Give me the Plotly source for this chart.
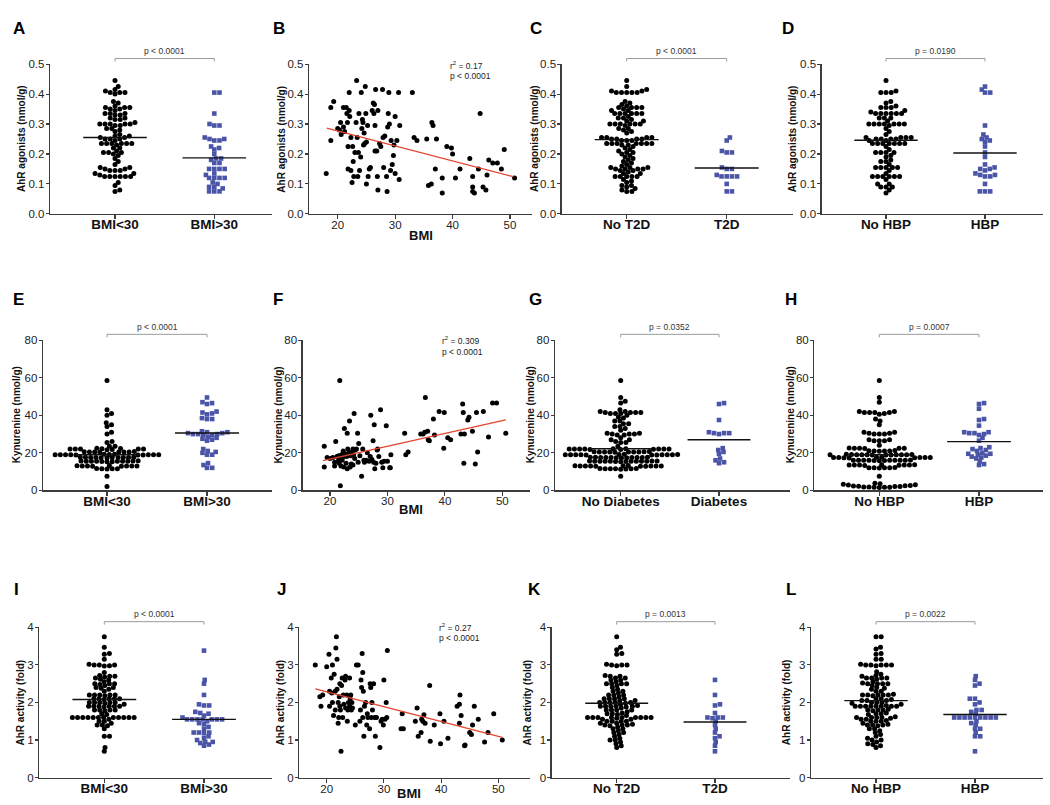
import math
import plotly.graph_objects as go

W, H = 1050, 805

# ---------------- data ----------------
# Row 1: AhR agonists (nmol/g)
a_bmi_lt30 = [0.445, 0.425, 0.415, 0.41, 0.405, 0.405, 0.405, 0.40, 0.375, 0.37, 0.36, 0.355, 0.355, 0.355,
              0.35, 0.35, 0.345, 0.335, 0.335, 0.335, 0.33, 0.33, 0.32, 0.32, 0.315, 0.315, 0.305, 0.30, 0.30,
              0.30, 0.30, 0.30, 0.295, 0.295, 0.285, 0.285, 0.28, 0.275, 0.265, 0.26, 0.26, 0.255, 0.255, 0.25,
              0.25, 0.25, 0.245, 0.235, 0.235, 0.235, 0.235, 0.235, 0.235, 0.23, 0.22, 0.22, 0.21, 0.205, 0.205,
              0.205, 0.20, 0.195, 0.185, 0.175, 0.165, 0.155, 0.155, 0.15, 0.15, 0.145, 0.145, 0.145, 0.135,
              0.135, 0.13, 0.125, 0.125, 0.125, 0.125, 0.125, 0.125, 0.105, 0.095, 0.08, 0.075]
a_bmi_gt30 = [0.405, 0.405, 0.335, 0.30, 0.295, 0.295, 0.255, 0.25, 0.25, 0.245, 0.245, 0.225, 0.22, 0.215,
              0.20, 0.185, 0.185, 0.18, 0.17, 0.17, 0.15, 0.15, 0.15, 0.15, 0.135, 0.13, 0.12, 0.12, 0.12,
              0.12, 0.105, 0.10, 0.09, 0.09, 0.085, 0.075, 0.075, 0.075]
a_medians = [0.255, 0.187]

b_points = [(18.0, 0.135), (18.8, 0.245), (18.8, 0.355), (19.3, 0.375), (20.0, 0.285), (20.3, 0.28),
            (20.5, 0.305), (20.6, 0.265), (21.0, 0.29), (21.0, 0.355), (21.2, 0.275), (21.5, 0.355),
            (21.6, 0.335), (21.7, 0.305), (21.8, 0.225), (21.8, 0.15), (22.0, 0.405), (22.0, 0.345),
            (22.1, 0.325), (22.3, 0.255), (22.3, 0.145), (22.5, 0.105), (22.6, 0.225), (22.7, 0.175),
            (22.8, 0.125), (23.0, 0.205), (23.2, 0.305), (23.3, 0.445), (23.4, 0.255), (23.5, 0.125),
            (23.6, 0.205), (23.7, 0.335), (23.8, 0.145), (24.0, 0.19), (24.1, 0.405), (24.2, 0.285),
            (24.3, 0.315), (24.4, 0.305), (24.5, 0.23), (24.6, 0.27), (24.7, 0.235), (24.8, 0.425),
            (24.9, 0.335), (25.0, 0.10), (25.0, 0.24), (25.2, 0.295), (25.3, 0.125), (25.5, 0.15),
            (25.7, 0.155), (26.0, 0.345), (26.2, 0.37), (26.3, 0.335), (26.4, 0.365), (26.5, 0.295),
            (26.5, 0.21), (26.6, 0.415), (26.8, 0.21), (26.9, 0.125), (27.0, 0.08), (27.0, 0.345),
            (27.3, 0.235), (27.5, 0.225), (27.8, 0.415), (27.9, 0.255), (28.0, 0.155), (28.2, 0.26),
            (28.5, 0.125), (28.6, 0.075), (28.7, 0.29), (28.8, 0.335), (28.9, 0.405), (29.0, 0.30),
            (29.2, 0.145), (29.3, 0.245), (29.5, 0.165), (29.7, 0.195), (29.8, 0.23), (30.0, 0.325),
            (30.0, 0.135), (30.3, 0.245), (30.6, 0.405), (30.7, 0.115), (30.8, 0.295), (33.0, 0.405),
            (33.3, 0.255), (33.8, 0.245), (35.5, 0.25), (35.8, 0.095), (36.3, 0.10), (36.4, 0.305),
            (36.6, 0.295), (37.0, 0.15), (37.2, 0.25), (38.2, 0.07), (38.2, 0.12), (39.0, 0.225),
            (39.8, 0.22), (40.0, 0.20), (40.5, 0.12), (41.3, 0.15), (43.0, 0.185), (43.5, 0.125),
            (43.5, 0.09), (43.5, 0.075), (43.8, 0.07), (44.5, 0.15), (44.8, 0.335), (45.3, 0.09),
            (45.8, 0.08), (46.0, 0.13), (46.3, 0.18), (47.0, 0.17), (47.8, 0.17), (48.5, 0.15),
            (49.0, 0.215), (50.8, 0.12)]
b_fit_bmi = [18.1, 50.6]
b_fit_val = [0.286, 0.124]

c_no_t2d = [0.445, 0.425, 0.415, 0.41, 0.41, 0.405, 0.405, 0.405, 0.405, 0.405, 0.375, 0.37, 0.365, 0.36,
            0.355, 0.355, 0.355, 0.355, 0.35, 0.345, 0.345, 0.335, 0.335, 0.335, 0.335, 0.335, 0.335, 0.325,
            0.32, 0.32, 0.315, 0.31, 0.31, 0.30, 0.30, 0.30, 0.30, 0.30, 0.30, 0.295, 0.285, 0.285, 0.28,
            0.275, 0.27, 0.255, 0.255, 0.255, 0.255, 0.25, 0.25, 0.25, 0.25, 0.245, 0.245, 0.245, 0.235,
            0.235, 0.235, 0.235, 0.235, 0.235, 0.235, 0.23, 0.23, 0.225, 0.22, 0.215, 0.21, 0.205, 0.205,
            0.20, 0.195, 0.19, 0.185, 0.18, 0.175, 0.17, 0.165, 0.16, 0.155, 0.155, 0.155, 0.15, 0.15, 0.15,
            0.15, 0.145, 0.145, 0.14, 0.135, 0.135, 0.125, 0.125, 0.125, 0.125, 0.125, 0.115, 0.11, 0.105,
            0.095, 0.095, 0.09, 0.085, 0.08, 0.075, 0.075]
c_t2d = [0.255, 0.245, 0.21, 0.205, 0.205, 0.155, 0.15, 0.15, 0.13, 0.125, 0.125, 0.125, 0.125, 0.10,
         0.075, 0.075]
c_medians = [0.248, 0.153]

d_no_hbp = [0.445, 0.41, 0.405, 0.405, 0.405, 0.375, 0.37, 0.36, 0.355, 0.355, 0.355, 0.345, 0.34, 0.335,
            0.335, 0.335, 0.335, 0.335, 0.335, 0.32, 0.32, 0.32, 0.31, 0.30, 0.30, 0.30, 0.30, 0.30, 0.30,
            0.30, 0.295, 0.285, 0.275, 0.265, 0.255, 0.255, 0.255, 0.255, 0.25, 0.25, 0.25, 0.25, 0.245,
            0.245, 0.235, 0.235, 0.235, 0.235, 0.235, 0.235, 0.235, 0.225, 0.215, 0.205, 0.205, 0.205, 0.205,
            0.195, 0.19, 0.18, 0.175, 0.175, 0.165, 0.155, 0.155, 0.155, 0.155, 0.155, 0.145, 0.135, 0.125,
            0.125, 0.125, 0.125, 0.125, 0.125, 0.115, 0.10, 0.10, 0.09, 0.09, 0.09, 0.08, 0.07]
d_hbp = [0.425, 0.415, 0.405, 0.405, 0.295, 0.265, 0.255, 0.25, 0.245, 0.24, 0.225, 0.205, 0.19, 0.165,
         0.155, 0.15, 0.15, 0.145, 0.135, 0.13, 0.13, 0.125, 0.125, 0.10, 0.075, 0.075, 0.075]
d_medians = [0.246, 0.203]

# Row 2: Kynurenine (nmol/g)
e_bmi_lt30 = [58.5, 43, 41, 40, 36, 35, 34, 31, 30, 26, 25.5, 23.5, 23.5,
              22.5, 22.3, 22, 22, 22, 21.8, 22, 22.2, 22, 21.7,
              20.5, 20.6, 20.4, 20.5, 20.5, 20.3, 20.7, 20.5,
              19, 19, 19.2, 18.8, 19, 19, 19.1, 18.9, 19, 19, 19.2, 18.8, 19,
              17.5, 17.6, 17.4, 17.5, 17.5, 17.3, 17.7, 17.5, 17.5, 17.4, 17.6,
              15.5, 15.5, 15.7, 15.3, 15.5, 15.5, 15.6, 15.4, 15.5, 15.5, 15.8, 15.2,
              13, 13.2, 12.8, 13, 13, 13.1, 12.9, 13, 13,
              11.5, 11.6, 11.4, 11.5, 11.5, 7.5, 2]
e_bmi_gt30 = [49.5, 47, 46.5, 46, 42, 41.5, 41, 40.5, 38.5, 38, 38, 31.5, 31, 31, 30.5, 30.5, 30, 30, 30,
              29.5, 29.5, 28.5, 28, 27.5, 27, 26.5, 22, 21, 20.5, 20, 19, 19, 14.5, 13.5, 12, 12]
e_medians = [19.0, 30.6]

f_points = [(19.0, 23.5), (19.0, 12.5), (19.5, 17.5), (20.0, 17), (20.5, 17.5), (20.8, 13), (20.8, 15),
            (21.0, 26), (21.2, 18), (21.5, 18.5), (21.5, 16), (21.6, 14.5), (21.7, 58.5), (21.8, 2.5),
            (21.9, 13), (22.0, 19), (22.1, 16), (22.2, 17.5), (22.3, 21), (22.4, 12.5), (22.5, 33),
            (22.6, 19.5), (22.8, 14.5), (22.9, 18), (23.0, 30.5), (23.0, 11.5), (23.1, 22), (23.3, 20),
            (23.4, 37), (23.5, 12.5), (23.6, 18.5), (23.7, 14), (23.8, 20.5), (24.0, 13.5), (24.0, 22),
            (24.1, 19), (24.2, 41), (24.3, 17), (24.4, 21.5), (24.6, 22), (24.8, 30.5), (24.9, 15),
            (25.0, 25), (25.2, 18.5), (25.5, 7.5), (25.7, 22), (25.9, 16), (26.0, 15), (26.3, 16),
            (26.5, 20), (26.8, 15.5), (27.0, 18), (27.1, 40), (27.3, 16.5), (27.5, 26.5), (27.6, 15),
            (27.7, 35), (27.8, 11.5), (28.0, 14.5), (28.2, 21.5), (28.3, 22), (28.5, 18), (28.8, 43),
            (29.0, 15), (29.2, 12), (29.4, 15.5), (29.8, 34.5), (30.0, 15.5), (30.4, 12), (30.5, 12),
            (30.6, 19), (33.0, 30.5), (33.2, 19), (33.6, 20.5), (35.8, 30), (36.2, 30), (36.5, 31),
            (36.6, 49.5), (37.0, 31.5), (37.1, 27), (37.3, 26.5), (38.0, 38), (38.2, 29.5), (39.0, 42),
            (39.8, 22.5), (39.9, 41.5), (40.5, 28), (41.0, 27), (42.8, 30), (43.1, 46), (43.2, 41.5),
            (43.3, 14.5), (43.4, 30), (44.0, 37.5), (44.2, 39), (44.8, 31.5), (45.3, 14), (45.5, 41.5),
            (45.7, 20.5), (46.7, 42), (47.6, 28.5), (48.3, 46.5), (49.0, 46.5), (50.6, 30.5)]
f_fit_bmi = [18.8, 50.6]
f_fit_val = [15.8, 37.6]

g_no_diab = [58.5, 49.5, 47.5, 46.5, 43, 42, 42, 41.5, 41.5, 41.5, 41, 41, 41, 41.5, 40, 39, 38.5, 37, 37,
             35.5, 35.5, 34, 34, 33, 32, 30.5, 30.5, 30, 30, 30, 29.5, 29.5, 28, 27, 27, 26, 25.5, 25.5, 23.5,
             22, 22.2, 21.8, 22, 22, 22.1, 21.9, 22, 22, 22.2, 21.8, 22,
             20.5, 20.6, 20.4, 20.5, 20.5, 20.3, 20.7, 20.5, 20.5, 20.6,
             19, 19.1, 18.9, 19, 19, 19.2, 18.8, 19, 19, 19.1, 18.9, 19, 19,
             17.5, 17.6, 17.4, 17.5, 17.5, 17.3, 17.7, 17.5, 17.5, 17.4, 17.6, 17.5,
             15.5, 15.6, 15.4, 15.5, 15.5, 15.3, 15.7, 15.5, 15.5, 15.4, 15.6, 15.5, 15.5, 15.5,
             13, 13.1, 12.9, 13, 13, 13.2, 12.8, 13, 13, 13.1, 12.9, 13,
             11.5, 11.6, 11.4, 11.5, 11.5, 11.3, 11.7, 11.5, 7.5]
g_diab = [46.5, 46, 37.5, 31, 30.5, 30.5, 30, 30.5, 22.5, 21.5, 20.5, 19.5, 17, 16, 15, 14.5]
g_medians = [22.2, 27.0]

h_no_hbp = [58.5, 49.5, 47, 42, 42, 41.5, 41.5, 41.5, 41.5, 41, 40.5, 38, 37, 35, 31, 31, 30.5, 30.5, 30,
            30, 30, 27, 27, 26.5, 26.5, 26.5, 24,
            22.5, 22.6, 22.4, 22.5, 22.5, 22.3,
            21, 21.1, 20.9, 21, 21, 21.2,
            19, 19.1, 18.9, 19, 19, 19.2, 18.8, 19, 19, 19.1, 18.9, 19, 19,
            17.5, 17.6, 17.4, 17.5, 17.5, 17.3, 17.7, 17.5, 17.5, 17.4,
            16, 16.1, 15.9, 16, 16, 16.2, 15.8, 16, 16, 16.1, 15.9, 16,
            13.5, 13.6, 13.4, 13.5, 13.5, 13.3, 13.7, 13.5, 13.5,
            12, 12.1, 11.9, 12, 12, 12.2, 7.5,
            3.8, 3.5, 3.2, 3.0, 2.8, 2.6, 2.5, 2.3, 2.2, 2.0, 2.0, 1.8, 1.8, 1.7, 1.6, 1.6, 1.5]
h_hbp = [46.5, 46, 43.5, 38, 37.5, 34.5, 31, 30.5, 30.5, 30, 31, 29.5, 28, 26.5, 23, 22.5, 22, 21.5, 21,
         20, 19.5, 19.5, 19, 18.5, 18, 17.5, 17, 15.5, 14, 13.5]
h_medians = [19.0, 26.0]

# Row 3: AhR activity (fold)
i_bmi_lt30 = [3.75, 3.47, 3.3, 3.28, 3.15, 3.02, 3.0, 3.0, 3.0, 2.98, 2.97, 2.8, 2.72, 2.7, 2.7, 2.68,
              2.65, 2.62, 2.6, 2.55, 2.5, 2.5, 2.5, 2.48, 2.45, 2.4, 2.4, 2.38, 2.35, 2.3, 2.2, 2.2, 2.2,
              2.2, 2.2, 2.18, 2.1, 2.1, 2.1, 2.1, 2.1, 2.08, 2.0, 2.0, 2.0, 2.0, 2.0, 1.98, 1.95, 1.9, 1.9,
              1.9, 1.9, 1.9, 1.9, 1.88, 1.8, 1.8, 1.8, 1.8, 1.78, 1.7, 1.68, 1.6, 1.6, 1.6, 1.6, 1.6, 1.6,
              1.6, 1.6, 1.6, 1.6, 1.6, 1.6, 1.55, 1.5, 1.5, 1.45, 1.4, 1.4, 1.38, 1.3, 1.1, 1.1, 0.8, 0.7]
i_bmi_gt30 = [3.38, 2.6, 2.5, 2.2, 1.95, 1.92, 1.92, 1.75, 1.72, 1.7, 1.65, 1.6, 1.55, 1.55, 1.55, 1.55,
              1.55, 1.55, 1.55, 1.5, 1.45, 1.42, 1.35, 1.3, 1.2, 1.2, 1.18, 1.2, 1.1, 1.05, 1.0, 0.95, 0.95,
              0.92, 0.88, 0.85]
i_medians = [2.08, 1.55]

j_points = [(18.0, 3.0), (18.8, 2.15), (19.0, 1.9), (19.3, 2.2), (20.0, 2.95), (20.4, 3.28), (20.5, 2.3),
            (20.5, 1.9), (20.8, 2.65), (20.9, 2.25), (21.0, 3.0), (21.0, 2.0), (21.2, 1.65), (21.3, 2.75),
            (21.5, 2.3), (21.5, 1.8), (21.6, 3.45), (21.7, 3.75), (21.8, 2.35), (21.8, 3.15), (22.0, 1.45),
            (22.0, 2.0), (22.1, 1.6), (22.2, 2.15), (22.3, 1.9), (22.3, 2.5), (22.4, 1.8), (22.5, 0.7),
            (22.6, 2.45), (22.7, 2.65), (22.8, 1.6), (22.9, 2.2), (23.0, 1.95), (23.2, 2.6), (23.3, 2.7),
            (23.3, 1.85), (23.5, 2.2), (23.6, 1.5), (23.7, 1.8), (23.8, 2.0), (24.0, 2.65), (24.0, 1.9),
            (24.1, 2.1), (24.2, 2.2), (24.3, 1.8), (24.4, 2.0), (24.5, 1.85), (25.0, 1.4), (25.2, 3.0),
            (25.5, 3.0), (25.8, 1.5), (25.9, 1.8), (26.0, 2.6), (26.1, 2.4), (26.2, 3.3), (26.3, 2.8),
            (26.3, 1.6), (26.4, 2.3), (26.5, 1.1), (26.6, 1.9), (26.8, 2.0), (27.0, 1.4), (27.1, 1.7),
            (27.2, 1.6), (27.5, 1.3), (27.6, 2.5), (27.7, 2.4), (27.8, 1.6), (27.9, 2.0), (28.0, 1.8),
            (28.2, 2.5), (28.4, 1.6), (28.5, 1.1), (28.7, 1.6), (29.3, 0.8), (29.5, 1.5), (29.7, 1.55),
            (29.9, 1.4), (30.0, 2.6), (30.2, 1.55), (30.4, 2.0), (30.5, 1.6), (30.6, 3.38), (33.0, 1.3),
            (33.2, 1.7), (33.4, 1.3), (35.5, 1.5), (35.8, 1.85), (36.0, 1.1), (36.5, 1.2), (36.6, 1.55),
            (36.8, 1.5), (37.0, 1.67), (37.2, 1.45), (38.0, 2.45), (38.1, 0.97), (38.8, 1.4), (39.8, 1.7),
            (39.9, 0.9), (40.5, 1.5), (41.2, 1.05), (42.8, 1.9), (43.2, 1.95), (43.2, 1.45), (43.3, 2.2),
            (43.5, 1.65), (44.1, 0.85), (44.2, 0.87), (45.0, 1.2), (45.3, 1.15), (45.5, 1.4), (45.8, 1.9),
            (46.5, 1.55), (47.6, 0.95), (48.2, 1.2), (49.2, 1.7), (50.7, 1.0)]
j_fit_bmi = [18.0, 50.7]
j_fit_val = [2.36, 1.07]

k_no_t2d = [3.75, 3.47, 3.4, 3.3, 3.28, 3.02, 3.0, 3.0, 3.0, 2.98, 2.72, 2.7, 2.7, 2.65, 2.65, 2.6, 2.6,
            2.55, 2.5, 2.5, 2.5, 2.5, 2.45, 2.4, 2.35, 2.3, 2.3, 2.25, 2.2, 2.2, 2.2, 2.15, 2.1, 2.1, 2.1,
            2.1, 2.05, 2.05, 2.0, 2.0, 2.0, 2.0, 2.0, 1.98, 1.95, 1.92, 1.9, 1.9, 1.9, 1.9, 1.9, 1.88, 1.85,
            1.8, 1.8, 1.8, 1.8, 1.75, 1.72, 1.7, 1.7, 1.68, 1.65, 1.6, 1.6, 1.6, 1.6, 1.6, 1.6, 1.6, 1.6,
            1.6, 1.58, 1.55, 1.55, 1.5, 1.5, 1.5, 1.5, 1.45, 1.45, 1.42, 1.4, 1.4, 1.4, 1.38, 1.35, 1.3,
            1.3, 1.25, 1.2, 1.2, 1.15, 1.1, 1.05, 1.0, 1.0, 0.95, 0.9, 0.85, 0.8]
k_t2d = [2.6, 2.2, 1.95, 1.92, 1.72, 1.6, 1.6, 1.6, 1.58, 1.5, 1.4, 1.3, 1.2, 1.1, 1.05, 0.95, 0.85, 0.7]
k_medians = [1.98, 1.48]

l_no_hbp = [3.75, 3.75, 3.47, 3.42, 3.3, 3.28, 3.15, 3.15, 3.02, 3.0, 3.0, 3.0, 3.0, 3.0, 2.98, 2.82, 2.75,
            2.72, 2.7, 2.65, 2.65, 2.65, 2.65, 2.62, 2.55, 2.52, 2.5, 2.5, 2.5, 2.5, 2.45, 2.4, 2.38, 2.35,
            2.3, 2.3, 2.22, 2.2, 2.2, 2.2, 2.2, 2.2, 2.18, 2.1, 2.1, 2.08, 2.05, 2.05, 2.05, 2.0, 2.0, 2.0,
            1.98, 1.95, 1.92, 1.9, 1.9, 1.9, 1.9, 1.9, 1.9, 1.9, 1.9, 1.82, 1.8, 1.8, 1.8, 1.78, 1.72, 1.7,
            1.7, 1.68, 1.62, 1.6, 1.6, 1.6, 1.6, 1.58, 1.55, 1.55, 1.52, 1.5, 1.5, 1.5, 1.45, 1.42, 1.4,
            1.4, 1.4, 1.38, 1.3, 1.3, 1.25, 1.2, 1.15, 1.1, 1.05, 1.0, 1.0, 0.95, 0.9, 0.88, 0.85, 0.8]
l_hbp = [2.7, 2.6, 2.5, 2.45, 2.1, 2.1, 2.0, 1.95, 1.8, 1.8, 1.75, 1.7, 1.6, 1.6, 1.6, 1.6, 1.6, 1.6, 1.6,
         1.6, 1.6, 1.5, 1.45, 1.4, 1.3, 1.3, 1.2, 1.1, 1.1, 0.7]
l_medians = [2.05, 1.68]

# ---------------- styling / layout helpers ----------------
FONT = "Liberation Sans, Arial, Helvetica, sans-serif"
BLUE = "#4b55a8"
AXC = "#3c3c3c"
RED = "#e2452d"

ROW_PX = {1: (59.0, 211.0), 2: (339.3, 491.7), 3: (630.7, 783.3)}
ROW_Y = {1: dict(ymax=0.5, dtick=0.1, fmt=".1f", title="AhR agonists (nmol/g)"),
         2: dict(ymax=80, dtick=20, fmt="d", title="Kynurenine (nmol/g)"),
         3: dict(ymax=4, dtick=1, fmt="d", title="AhR activity (fold)")}
SIG_Y = {1: (53.3, 45.5), 2: (333.3, 325.8), 3: (625.0, 617.5)}


def beeswarm(vals, ppx, ppy, d=5.2, k=1.35):
    """Dot-plot layout: points keep their value, x offsets avoid (elliptic) overlap."""
    idx = sorted(range(len(vals)), key=lambda i: vals[i])
    placed = []
    out = [0.0] * len(vals)
    for i in idx:
        y = vals[i] * ppy
        cands = [0.0]
        for px, py in placed:
            dy = abs(py - y) * k
            if dy < d:
                dx = math.sqrt(d * d - dy * dy)
                cands.append(px + dx + 1e-6)
                cands.append(px - dx - 1e-6)
        cands.sort(key=lambda c: (abs(c), -c))
        chosen = 0.0
        for c in cands:
            if all((c - px) ** 2 + ((y - py) * k) ** 2 >= d * d - 1e-6 for px, py in placed):
                chosen = c
                break
        placed.append((chosen, y))
        out[i] = chosen / ppx
    return out


fig = go.Figure()
layout = {}
annotations = []
shapes = []


def names(k):
    s = "" if k == 1 else str(k)
    return "xaxis" + s, "yaxis" + s, "x" + s, "y" + s


def base_axes(k, row, x0, x1, xrange_):
    xa_name, ya_name, xr, yr = names(k)
    ytop, ybot = ROW_PX[row]
    cfg = ROW_Y[row]
    layout[xa_name] = dict(domain=[x0 / W, x1 / W], range=xrange_, anchor=yr, showline=True,
                           linecolor=AXC, linewidth=1.3, ticks="outside", ticklen=4, tickwidth=1.1,
                           tickcolor=AXC, showgrid=False, zeroline=False, fixedrange=True)
    layout[ya_name] = dict(domain=[1 - ybot / H, 1 - ytop / H], range=[0, cfg["ymax"]], anchor=xr,
                           showline=True, linecolor=AXC, linewidth=1.3, ticks="outside", ticklen=3,
                           tickwidth=1.1, tickcolor=AXC, showgrid=False, zeroline=False,
                           dtick=cfg["dtick"], tick0=0, tickformat=cfg["fmt"], ticklabelstandoff=-1,
                           tickfont=dict(family=FONT, size=11.5, color="#222"), fixedrange=True)
    return xr, yr


def ytitle(row, xpx):
    ytop, ybot = ROW_PX[row]
    annotations.append(dict(text=ROW_Y[row]["title"], x=xpx / W, y=1 - (ytop + ybot) / 2 / H,
                            xref="paper", yref="paper", textangle=-90, showarrow=False,
                            xanchor="center", yanchor="middle",
                            font=dict(family=FONT, size=10, color="#111", weight="bold")))


def letter(txt, xpx, ypx):
    annotations.append(dict(text=txt, x=xpx / W, y=1 - ypx / H, xref="paper", yref="paper",
                            showarrow=False, xanchor="center", yanchor="middle",
                            font=dict(family=FONT, size=17, color="#000", weight="bold")))


def cat_panel(k, row, x0, x1, c0, c1, g1, g2, meds, labels, ptext, ytx, let, lx, ly):
    span = c1 - c0
    xrange_ = [-(c0 - x0) / span, 1 + (x1 - c1) / span]
    xr, yr = base_axes(k, row, x0, x1, xrange_)
    xa_name = names(k)[0]
    layout[xa_name].update(tickvals=[0, 1], ticktext=labels, ticklabelstandoff=-6,
                           tickfont=dict(family=FONT, size=13.5, color="#111", weight="bold"))
    ytop, ybot = ROW_PX[row]
    ppy = (ybot - ytop) / ROW_Y[row]["ymax"]
    xs1 = beeswarm(g1, span, ppy)
    xs2 = beeswarm(g2, span, ppy)
    fig.add_trace(go.Scatter(x=xs1, y=g1, mode="markers", xaxis=xr, yaxis=yr, cliponaxis=False,
                             marker=dict(symbol="circle", size=5, color="#000"), showlegend=False,
                             hoverinfo="skip"))
    fig.add_trace(go.Scatter(x=[1 + v for v in xs2], y=g2, mode="markers", xaxis=xr, yaxis=yr,
                             cliponaxis=False, marker=dict(symbol="square", size=4.6, color=BLUE),
                             showlegend=False, hoverinfo="skip"))
    hw = 0.32
    for ci, m in enumerate(meds):
        fig.add_trace(go.Scatter(x=[ci - hw, ci + hw], y=[m, m], mode="lines", xaxis=xr, yaxis=yr,
                                 line=dict(color="#111", width=1.4), showlegend=False,
                                 hoverinfo="skip"))
    by, ty = SIG_Y[row]
    shapes.append(dict(type="line", xref=xr, yref="paper", x0=0, x1=1, y0=1 - by / H, y1=1 - by / H,
                       line=dict(color="#9a9a9a", width=1)))
    for cx in (0, 1):
        shapes.append(dict(type="line", xref=xr, yref="paper", x0=cx, x1=cx, y0=1 - by / H,
                           y1=1 - (by + 3) / H, line=dict(color="#9a9a9a", width=1)))
    annotations.append(dict(text=ptext, x=0.5, y=1 - ty / H, xref=xr, yref="paper",
                            showarrow=False, xanchor="center", yanchor="middle",
                            font=dict(family=FONT, size=8.5, color="#333")))
    ytitle(row, ytx)
    letter(let, lx, ly)


def scatter_panel(k, row, x0, x1, t20, t50, pts, fitx, fity, r2text, ax, ay, bx, by_, ytx, let, lx, ly):
    ppu = (t50 - t20) / 30.0
    xrange_ = [20 - (t20 - x0) / ppu, 50 + (x1 - t50) / ppu]
    xr, yr = base_axes(k, row, x0, x1, xrange_)
    xa_name = names(k)[0]
    layout[xa_name].update(tickvals=[20, 30, 40, 50], ticklabelstandoff=-4,
                           tickfont=dict(family=FONT, size=11.5, color="#222"))
    fig.add_trace(go.Scatter(x=[p[0] for p in pts], y=[p[1] for p in pts], mode="markers",
                             xaxis=xr, yaxis=yr, cliponaxis=False,
                             marker=dict(symbol="circle", size=5, color="#000"), showlegend=False,
                             hoverinfo="skip"))
    fig.add_trace(go.Scatter(x=fitx, y=fity, mode="lines", xaxis=xr, yaxis=yr,
                             line=dict(color=RED, width=1.3), showlegend=False, hoverinfo="skip"))
    for i, t in enumerate(r2text):
        annotations.append(dict(text=t, x=ax / W, y=1 - (ay + i * 10.8) / H, xref="paper",
                                yref="paper", showarrow=False, xanchor="left", yanchor="middle",
                                font=dict(family=FONT, size=8.5, color="#222")))
    annotations.append(dict(text="BMI", x=bx / W, y=1 - by_ / H, xref="paper", yref="paper",
                            showarrow=False, xanchor="center", yanchor="middle",
                            font=dict(family=FONT, size=13, color="#111", weight="bold")))
    ytitle(row, ytx)
    letter(let, lx, ly)


# ---------------- panels ----------------
cat_panel(1, 1, 50, 272, 115, 214.3, a_bmi_lt30, a_bmi_gt30, a_medians, ["BMI&lt;30", "BMI&gt;30"],
          "p &lt; 0.0001", 22, "A", 19, 23)
scatter_panel(2, 1, 309, 532, 337.7, 510, b_points, b_fit_bmi, b_fit_val,
              ["r<sup>2</sup> = 0.17", "p &lt; 0.0001"], 448, 60, 421, 233, 281.7, "B", 279, 23)
cat_panel(3, 1, 561.7, 793, 626.7, 726.7, c_no_t2d, c_t2d, c_medians, ["No T2D", "T2D"],
          "p &lt; 0.0001", 535, "C", 536, 23)
cat_panel(4, 1, 821.7, 1043, 886, 985, d_no_hbp, d_hbp, d_medians, ["No HBP", "HBP"],
          "p = 0.0190", 793.3, "D", 788, 23)

cat_panel(5, 2, 43, 272, 107, 207, e_bmi_lt30, e_bmi_gt30, e_medians, ["BMI&lt;30", "BMI&gt;30"],
          "p &lt; 0.0001", 16, "E", 18, 298)
scatter_panel(6, 2, 302.7, 530, 330, 502.3, f_points, f_fit_bmi, f_fit_val,
              ["r<sup>2</sup> = 0.309", "p &lt; 0.0001"], 440, 340, 411, 511, 278.3, "F", 278, 298)
cat_panel(7, 2, 555, 790, 620.7, 719, g_no_diab, g_diab, g_medians, ["No Diabetes", "Diabetes"],
          "p = 0.0352", 530, "G", 535, 298)
cat_panel(8, 2, 814.3, 1043, 879.3, 979, h_no_hbp, h_hbp, h_medians, ["No HBP", "HBP"],
          "p = 0.0007", 790, "H", 791, 298)

cat_panel(9, 3, 39.3, 272, 104.3, 204, i_bmi_lt30, i_bmi_gt30, i_medians, ["BMI&lt;30", "BMI&gt;30"],
          "p &lt; 0.0001", 20, "I", 16, 592)
scatter_panel(10, 3, 299.3, 530, 326.7, 498.3, j_points, j_fit_bmi, j_fit_val,
              ["r<sup>2</sup> = 0.27", "p &lt; 0.0001"], 436.5, 631, 409, 799, 280, "J", 281, 592)
cat_panel(11, 3, 551.7, 790, 616.7, 715, k_no_t2d, k_t2d, k_medians, ["No T2D", "T2D"],
          "p = 0.0013", 527, "K", 534, 592)
cat_panel(12, 3, 811, 1043, 876, 975, l_no_hbp, l_hbp, l_medians, ["No HBP", "HBP"],
          "p = 0.0022", 786.7, "L", 791, 592)

fig.update_layout(width=W, height=H, margin=dict(l=0, r=0, t=0, b=0), paper_bgcolor="white",
                  plot_bgcolor="white", showlegend=False, annotations=annotations, shapes=shapes,
                  font=dict(family=FONT, color="#222"), **layout)
fig.write_html("out.html", config={"displayModeBar": False, "staticPlot": True},
               post_script="document.body.style.margin='0';document.body.style.overflow='hidden';")
